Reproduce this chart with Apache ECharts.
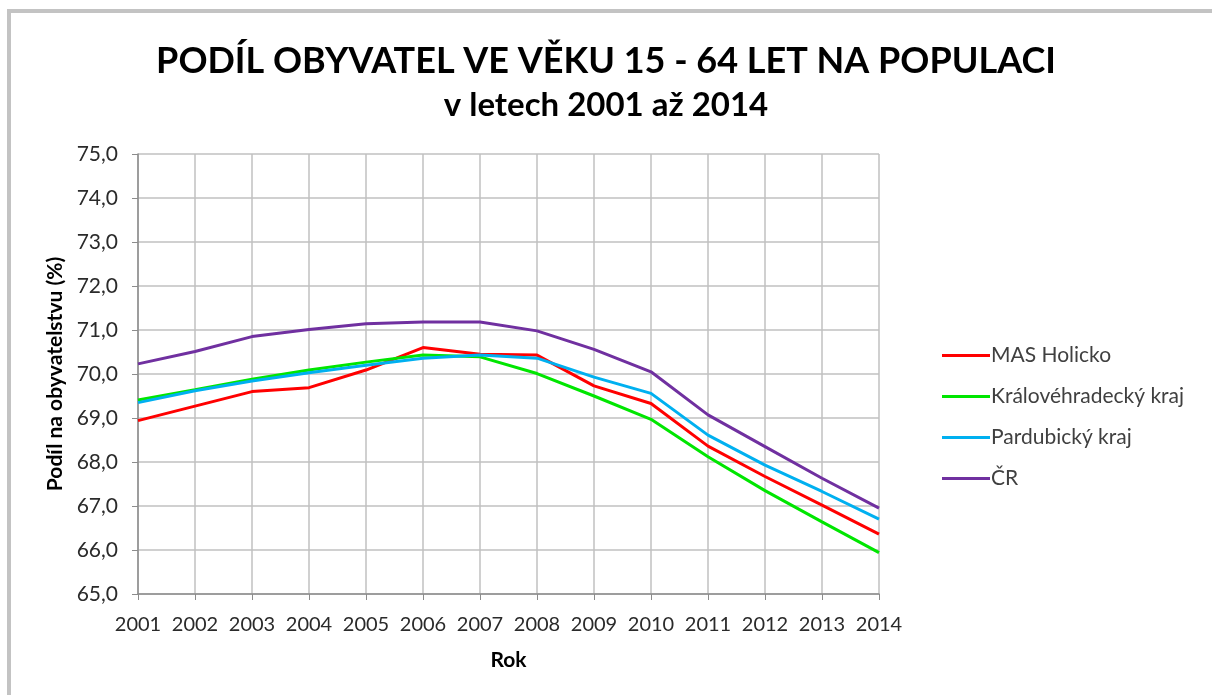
<!DOCTYPE html>
<html>
<head>
<meta charset="utf-8">
<script src="https://cdn.jsdelivr.net/npm/echarts@6/dist/echarts.min.js"></script>
<style>html,body{margin:0;padding:0;background:#fff}#c{width:1212px;height:695px}</style>
</head>
<body>
<div id="c"></div>
<script>
const years = ['2001','2002','2003','2004','2005','2006','2007','2008','2009','2010','2011','2012','2013','2014'];
const masHolicko = [68.94, 69.27, 69.60, 69.69, 70.09, 70.60, 70.45, 70.43, 69.73, 69.33, 68.36, 67.67, 67.02, 66.36];
const kralovehradecky = [69.41, 69.64, 69.88, 70.09, 70.27, 70.43, 70.39, 70.01, 69.50, 68.97, 68.12, 67.35, 66.64, 65.94];
const pardubicky = [69.35, 69.62, 69.84, 70.03, 70.20, 70.36, 70.43, 70.36, 69.93, 69.56, 68.61, 67.93, 67.33, 66.70];
const cr = [70.23, 70.51, 70.85, 71.01, 71.14, 71.18, 71.18, 70.98, 70.56, 70.05, 69.07, 68.35, 67.63, 66.95];
const seriesNames = ['MAS Holicko', 'Královéhradecký kraj', 'Pardubický kraj', 'ČR'];
const seriesColors = ['#ff0000', '#00e600', '#00b0f0', '#7030a0'];

const chart = echarts.init(document.getElementById('c'), null, {renderer: 'canvas'});
const font = 'Lato, "Open Sans", sans-serif';
const dataSets = [masHolicko, kralovehradecky, pardubicky, cr];
chart.setOption({
  animation: false,
  backgroundColor: '#fff',
  title: [
    {text: 'PODÍL OBYVATEL VE VĚKU 15 - 64 LET NA POPULACI', left: 'center', top: 38,
     textStyle: {fontFamily: font, fontSize: 36, fontWeight: 'bold', color: '#000'}},
    {text: 'v letech 2001 až 2014', left: 'center', top: 84,
     textStyle: {fontFamily: font, fontSize: 33, fontWeight: 'bold', color: '#000'}}
  ],
  graphic: [{type: 'rect', shape: {x: 9, y: 11, width: 1300, height: 800},
    style: {fill: 'none', stroke: '#c3c3c3', lineWidth: 4}, silent: true}],
  grid: {left: 138, right: 333, top: 154, bottom: 101, containLabel: false},
  legend: {
    orient: 'vertical', left: 937, top: 340, itemGap: 20,
    icon: 'rect', itemWidth: 48, itemHeight: 3,
    textStyle: {fontFamily: font, fontSize: 21, color: '#404040', padding: [0, 0, 0, -4]},
    data: seriesNames
  },
  xAxis: {
    type: 'category', data: years, boundaryGap: false,
    name: 'Rok', nameLocation: 'middle', nameGap: 56,
    nameTextStyle: {fontFamily: font, fontSize: 21, fontWeight: 'bold', color: '#000'},
    axisLine: {lineStyle: {color: '#8c8c8c', width: 1.5}},
    axisTick: {show: true, interval: 0, length: 6, lineStyle: {color: '#8c8c8c'}},
    axisLabel: {interval: 0, hideOverlap: false, fontFamily: font, fontSize: 20, color: '#2a2a2a', margin: 21},
    splitLine: {show: true, interval: 0, lineStyle: {color: '#c0c0c0', width: 1.5}}
  },
  yAxis: {
    type: 'value', min: 65, max: 75, interval: 1,
    name: 'Podíl na obyvatelstvu (%)', nameLocation: 'middle', nameGap: 71, nameRotate: 90,
    nameTextStyle: {fontFamily: font, fontSize: 21, fontWeight: 'bold', color: '#000'},
    axisLine: {show: true, lineStyle: {color: '#8c8c8c', width: 1.5}},
    axisTick: {show: true, length: 6, lineStyle: {color: '#8c8c8c'}},
    axisLabel: {fontFamily: font, fontSize: 21, color: '#2a2a2a', margin: 20,
      formatter: v => v.toFixed(1).replace('.', ',')},
    splitLine: {show: true, lineStyle: {color: '#c0c0c0', width: 1.5}}
  },
  series: seriesNames.map((n, i) => ({
    name: n, type: 'line', data: dataSets[i], symbol: 'none',
    lineStyle: {color: seriesColors[i], width: 3}, itemStyle: {color: seriesColors[i]}
  }))
});
</script>
</body>
</html>
